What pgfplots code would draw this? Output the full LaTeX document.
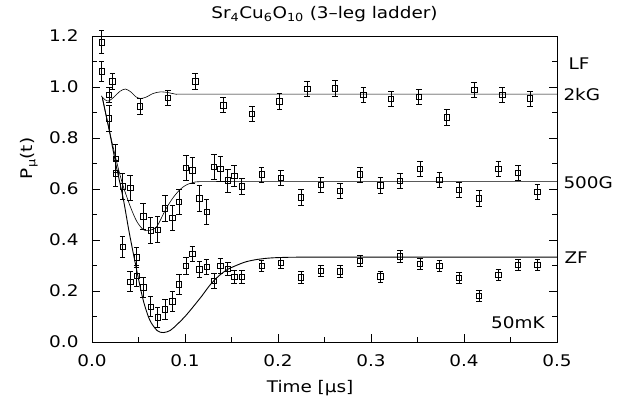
\documentclass[border=0pt]{standalone}
\usepackage{fontspec}
\setmainfont{DejaVu Sans}[FakeStretch=1.15]
\usepackage{pgfplots}
\pgfplotsset{compat=1.18}

% muon data: t [us], P, error
\pgfplotstableread{
t p e
0.0104 1.176 0.045
0.0104 1.062 0.040
0.0183 0.969 0.030
0.0219 1.022 0.030
0.0516 0.924 0.030
0.0814 0.957 0.030
0.1110 1.022 0.030
0.1410 0.929 0.030
0.1720 0.894 0.030
0.2014 0.944 0.030
0.2315 0.992 0.030
0.2613 0.995 0.030
0.2918 0.969 0.030
0.3215 0.953 0.030
0.3513 0.961 0.030
0.3814 0.881 0.030
0.4110 0.988 0.030
0.4410 0.969 0.030
0.4710 0.955 0.030
}\lfdata

\pgfplotstableread{
t p e
0.0183 0.878 0.050
0.0254 0.719 0.055
0.0254 0.661 0.050
0.0330 0.611 0.050
0.0410 0.605 0.050
0.0550 0.493 0.050
0.0630 0.438 0.050
0.0706 0.441 0.050
0.0785 0.524 0.050
0.0864 0.487 0.050
0.0935 0.549 0.050
0.1010 0.684 0.050
0.1080 0.674 0.050
0.1154 0.563 0.050
0.1233 0.511 0.050
0.1310 0.688 0.050
0.1380 0.680 0.050
0.1460 0.634 0.045
0.1530 0.651 0.040
0.1610 0.611 0.030
0.1824 0.657 0.030
0.2030 0.644 0.030
0.2247 0.568 0.030
0.2460 0.617 0.030
0.2667 0.594 0.030
0.2880 0.657 0.030
0.3100 0.614 0.030
0.3310 0.631 0.030
0.3527 0.680 0.030
0.3735 0.635 0.030
0.3946 0.598 0.030
0.4160 0.563 0.030
0.4370 0.680 0.030
0.4580 0.664 0.030
0.4790 0.589 0.030
}\tgdata

\pgfplotstableread{
t p e
0.0330 0.373 0.040
0.0410 0.237 0.040
0.0480 0.332 0.040
0.0480 0.260 0.040
0.0550 0.214 0.040
0.0630 0.139 0.040
0.0706 0.097 0.040
0.0785 0.129 0.040
0.0864 0.159 0.040
0.0935 0.227 0.040
0.1010 0.299 0.035
0.1080 0.346 0.030
0.1154 0.285 0.030
0.1233 0.294 0.030
0.1310 0.241 0.030
0.1380 0.299 0.030
0.1460 0.286 0.025
0.1530 0.255 0.025
0.1610 0.255 0.025
0.1824 0.298 0.022
0.2030 0.310 0.022
0.2247 0.254 0.022
0.2460 0.280 0.022
0.2667 0.277 0.022
0.2880 0.319 0.022
0.3100 0.257 0.022
0.3310 0.336 0.022
0.3527 0.307 0.022
0.3735 0.299 0.022
0.3946 0.251 0.022
0.4160 0.181 0.022
0.4370 0.264 0.022
0.4580 0.303 0.022
0.4790 0.303 0.022
}\zfdata

\pgfplotsset{
  muondata/.style={
    only marks, mark=square, black, thin,
    mark size=2.7pt, mark options={solid, fill=white, line width=0.6pt},
    error bars/.cd, y dir=both, y explicit,
    error bar style={line width=0.6pt},
    error mark options={rotate=90, mark size=2.8pt, line width=0.6pt}
  }
}

\begin{document}
\fontsize{16}{19}\selectfont
\begin{tikzpicture}[font=\fontsize{16}{19}\selectfont]
\useasboundingbox (-92pt,-58pt) rectangle (526pt,342pt);
\begin{axis}[
  scale only axis,
  width=465pt, height=306pt,
  xmin=0, xmax=0.5, ymin=0, ymax=1.2,
  xtick={0,0.1,...,0.5}, ytick={0,0.2,...,1.2},
  minor x tick num=1, minor y tick num=1,
  xtick pos=bottom,
  major tick length=8pt, minor tick length=5pt,
  tick style={black, line width=0.7pt},
  axis line style={line width=0.8pt},
  tick label style={font=\fontsize{16}{19}\selectfont},
  /pgf/number format/.cd, fixed, fixed zerofill, precision=1, assume math mode=true,
  /pgfplots/.cd,
  xticklabel style={yshift=-7pt},
  yticklabel style={xshift=-8pt},
  clip=false,
  xlabel={Time [μs]},
  xlabel style={font=\fontsize{16}{19}\selectfont, at={(axis description cs:0.469,-0.15)}, anchor=center},
  ylabel={P\textsubscript{μ}(t)},
  ylabel style={font=\fontsize{16}{19}\selectfont, at={(axis description cs:-0.105,0.6)}, anchor=south},
]
% fits
\addplot[black, line width=0.6pt, smooth, tension=0.5] coordinates {
(0.010,0.965) (0.014,0.950) (0.018,0.945) (0.024,0.962) (0.030,0.983)
(0.036,0.992) (0.042,0.980) (0.047,0.962) (0.052,0.955) (0.058,0.960)
(0.066,0.975) (0.074,0.981) (0.082,0.978) (0.090,0.972) (0.100,0.972)
(0.200,0.972) (0.300,0.972) (0.400,0.972) (0.500,0.972)};
\addplot[black, line width=0.6pt, smooth, tension=0.5] coordinates {
(0.011,0.960) (0.018,0.840) (0.0258,0.717) (0.033,0.618) (0.041,0.533)
(0.048,0.474) (0.055,0.441) (0.0605,0.437) (0.0695,0.452) (0.0785,0.515)
(0.086,0.560) (0.0946,0.598) (0.102,0.617) (0.109,0.625) (0.120,0.629)
(0.200,0.629) (0.300,0.629) (0.400,0.629) (0.500,0.629)};
\addplot[black, line width=0.9pt, smooth, tension=0.5] coordinates {
(0.011,0.960) (0.018,0.840) (0.0255,0.700) (0.0337,0.560) (0.040,0.430)
(0.048,0.283) (0.055,0.165) (0.062,0.087) (0.070,0.045) (0.0767,0.037)
(0.084,0.045) (0.091,0.067) (0.100,0.100) (0.109,0.139) (0.118,0.180)
(0.127,0.224) (0.136,0.258) (0.145,0.283) (0.155,0.300) (0.166,0.315)
(0.180,0.325) (0.200,0.331) (0.250,0.333) (0.500,0.333)};
% data
\addplot[muondata] table[x=t, y=p, y error=e] {\lfdata};
\addplot[muondata] table[x=t, y=p, y error=e] {\tgdata};
\addplot[muondata] table[x=t, y=p, y error=e] {\zfdata};
% labels
\node[anchor=base] at (axis description cs:0.5,1.056) {Sr\textsubscript{4}Cu\textsubscript{6}O\textsubscript{10} (3–leg ladder)};
\node[anchor=west] at (axis cs:0.5,1.09) {\hspace*{6pt}LF};
\node[anchor=west] at (axis cs:0.5,0.972) {\hspace*{1pt}2kG};
\node[anchor=west] at (axis cs:0.5,0.626) {\hspace*{1pt}500G};
\node[anchor=west] at (axis cs:0.5,0.33) {\hspace*{2pt}ZF};
\node at (axis cs:0.458,0.075) {50mK};
\end{axis}
\end{tikzpicture}
\end{document}
